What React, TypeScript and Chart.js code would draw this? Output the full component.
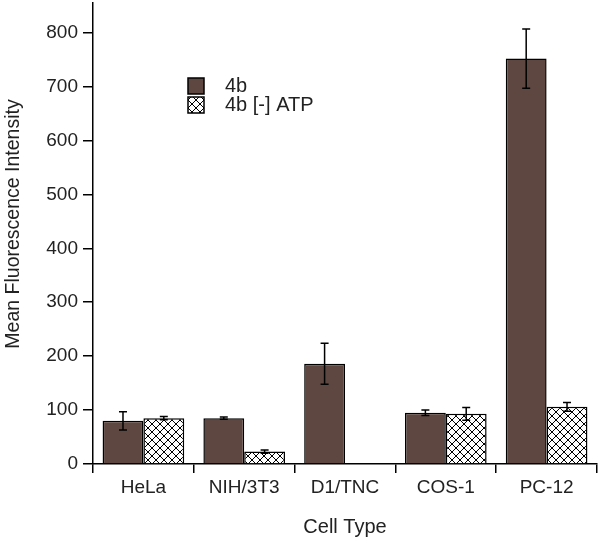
import React, { useEffect, useRef } from "react";
import { Chart, registerables } from "chart.js";

Chart.register(...registerables);

const categories = ["HeLa", "NIH/3T3", "D1/TNC", "COS-1", "PC-12"];
const series4b = [80, 85, 186, 95, 752];
const error4b = [17, 2, 38, 5, 55];
const seriesATP: (number | null)[] = [85, 23, null, 93, 106];
const errorATP = [3, 3, 0, 12, 8];
const seriesLabels = ["4b", "4b [-] ATP"];
const yTicks = [0, 100, 200, 300, 400, 500, 600, 700, 800];
const yTitle = "Mean Fluorescence Intensity";
const xTitle = "Cell Type";

const FONT = "'Liberation Sans', Arial, sans-serif";
const BROWN = "#5f4741";
const TEXT = "#222";

function makeHatch(): CanvasPattern | string {
  const c = document.createElement("canvas");
  c.width = 8;
  c.height = 8;
  const g = c.getContext("2d");
  if (!g) return "#fff";
  g.fillStyle = "#fff";
  g.fillRect(0, 0, 8, 8);
  g.strokeStyle = "#000";
  g.lineWidth = 1;
  g.beginPath();
  g.moveTo(0, 0);
  g.lineTo(8, 8);
  g.moveTo(8, 0);
  g.lineTo(0, 8);
  g.stroke();
  const p = g.createPattern(c, "repeat");
  return p || "#fff";
}

export default function App() {
  const ref = useRef<HTMLCanvasElement | null>(null);

  useEffect(() => {
    if (!ref.current) return;
    const hatch = makeHatch();
    const errors = [error4b, errorATP];

    const errorBars = {
      id: "errorBars",
      afterDatasetsDraw(chart: any) {
        const ctx = chart.ctx;
        const ys = chart.scales.y;
        ctx.save();
        ctx.strokeStyle = "#000";
        ctx.lineWidth = 1.5;
        chart.data.datasets.forEach((ds: any, i: number) => {
          const meta = chart.getDatasetMeta(i);
          meta.data.forEach((el: any, j: number) => {
            const v = ds.data[j];
            const e = errors[i][j];
            if (v == null || !e) return;
            const x = el.x;
            const yt = ys.getPixelForValue(v + e);
            const yb = ys.getPixelForValue(v - e);
            ctx.beginPath();
            ctx.moveTo(x, yt);
            ctx.lineTo(x, yb);
            ctx.moveTo(x - 4, yt);
            ctx.lineTo(x + 4, yt);
            ctx.moveTo(x - 4, yb);
            ctx.lineTo(x + 4, yb);
            ctx.stroke();
          });
        });
        ctx.restore();
      },
    };

    const customText = {
      id: "customText",
      afterDraw(chart: any) {
        const ctx = chart.ctx;
        const area = chart.chartArea;
        ctx.save();
        // legend
        const boxX = 188;
        const rows = [78, 97];
        chart.data.datasets.forEach((ds: any, i: number) => {
          const y = rows[i];
          ctx.fillStyle = ds.backgroundColor;
          ctx.fillRect(boxX, y, 16, 16);
          ctx.strokeStyle = "#000";
          ctx.lineWidth = 1.5;
          ctx.strokeRect(boxX, y, 16, 16);
          ctx.fillStyle = TEXT;
          ctx.font = `20px ${FONT}`;
          ctx.textAlign = "left";
          ctx.textBaseline = "middle";
          ctx.fillText(ds.label, 225, y + 8);
        });
        // y title
        ctx.fillStyle = TEXT;
        ctx.font = `19.5px ${FONT}`;
        ctx.translate(14, 224);
        ctx.rotate(-Math.PI / 2);
        ctx.textAlign = "center";
        ctx.textBaseline = "middle";
        ctx.fillText(yTitle, 0, 0);
        ctx.restore();
        ctx.save();
        ctx.fillStyle = TEXT;
        ctx.font = `20px ${FONT}`;
        ctx.textAlign = "center";
        ctx.textBaseline = "middle";
        ctx.fillText(xTitle, (area.left + area.right) / 2, 527);
        ctx.restore();
      },
    };

    const chart = new Chart(ref.current, {
      type: "bar",
      data: {
        labels: categories,
        datasets: [
          {
            label: seriesLabels[0],
            data: series4b,
            backgroundColor: BROWN,
            borderColor: "#000",
            borderWidth: 1.5,
            categoryPercentage: 0.81,
            barPercentage: 1,
          },
          {
            label: seriesLabels[1],
            data: seriesATP,
            backgroundColor: hatch as any,
            borderColor: "#000",
            borderWidth: 1.5,
            categoryPercentage: 0.81,
            barPercentage: 1,
          },
        ],
      },
      options: {
        animation: false,
        responsive: false,
        layout: { padding: { top: 3, right: 5, left: 0, bottom: 0 } },
        plugins: {
          legend: { display: false },
          tooltip: { enabled: false },
        },
        scales: {
          x: {
            grid: {
              offset: true,
              drawOnChartArea: false,
              drawTicks: true,
              tickLength: 9,
              color: "#000",
              lineWidth: 1.5,
            },
            border: { display: true, color: "#000", width: 1.5 },
            ticks: {
              color: TEXT,
              font: { family: FONT, size: 19 },
              padding: 3,
              maxRotation: 0,
            },
            afterFit(scale: any) {
              scale.height = 79;
              scale.paddingLeft = 0;
              scale.paddingRight = 0;
            },
          },
          y: {
            min: 0,
            max: 855,
            afterBuildTicks(scale: any) {
              scale.ticks = yTicks.map((v) => ({ value: v }));
            },
            grid: {
              drawOnChartArea: false,
              drawTicks: true,
              tickLength: 10,
              color: "#000",
              lineWidth: 1.5,
            },
            border: { display: true, color: "#000", width: 1.5 },
            ticks: {
              color: TEXT,
              font: { family: FONT, size: 19 },
              padding: 5,
            },
            afterFit(scale: any) {
              scale.width = 93;
              scale.paddingTop = 0;
              scale.paddingBottom = 0;
            },
          },
        },
      },
      plugins: [errorBars, customText],
    });
    return () => chart.destroy();
  }, []);

  return (
    <canvas
      ref={ref}
      width={602}
      height={543}
      style={{ position: "absolute", left: 0, top: 0, display: "block", background: "#fff" }}
    />
  );
}
